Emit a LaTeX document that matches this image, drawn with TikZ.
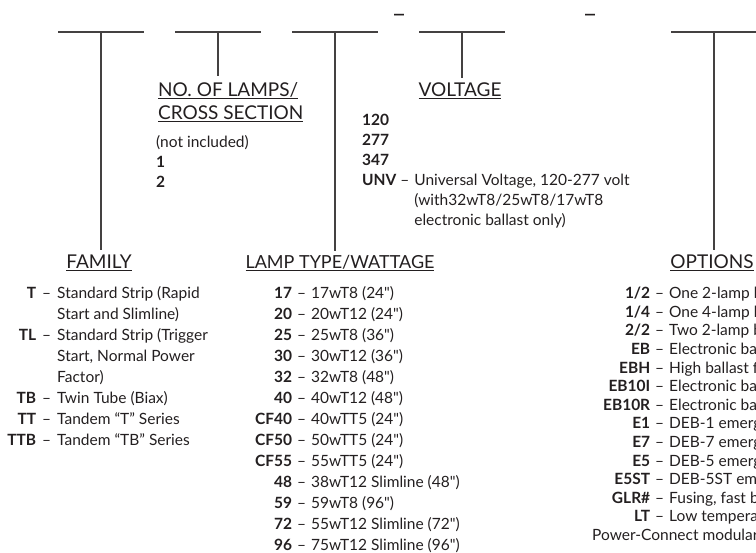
\documentclass[tikz,border=0pt]{standalone}
\usepackage{fontspec}
\setmainfont{Lato}
\usepackage{array}
\usepackage{xcolor}
\usepackage{tikz}

\definecolor{ink}{HTML}{231F20}
\newcolumntype{C}[1]{>{\raggedleft\arraybackslash\bfseries}p{#1}}
\newcommand\ulhead[1]{\setbox0\hbox{#1}\rlap{\rule[-2.4pt]{\wd0}{1.1pt}}\box0}
\newcommand\inch{\textquotedbl}

\begin{document}
\begin{tikzpicture}[
    x=1pt, y=-1pt,
    blank/.style={draw=ink!85, line width=1.2pt},
    lead/.style={draw=ink!85, line width=1.1pt, shorten >=5pt},
    head/.style={inner sep=0pt, anchor=base, text=ink, font=\fontsize{19}{23}\selectfont},
    list/.style={inner sep=0pt, anchor=north west, text=ink}
]
\path[use as bounding box, clip] (0,0) rectangle (756,553);

\coordinate (fam) at (101,32);
\coordinate (lamps) at (218,32);
\coordinate (type) at (335,32);
\coordinate (volt) at (462,32);
\coordinate (opt) at (714,32);

\foreach \c in {fam,lamps,type,volt,opt}
    \draw[blank] ([xshift=-43pt]\c) -- ([xshift=43pt]\c);

\node[head, font=\fontsize{25}{25}\selectfont] (dash1) at (399,23) {--};
\node[head, font=\fontsize{25}{25}\selectfont] (dash2) at (590,23) {--};

\node[head] (family) at (99,269) {\ulhead{FAMILY}};
\node[head, anchor=base west] (lampsh) at (158,97)
    {\begin{tabular}[t]{@{}l@{}}\ulhead{NO. OF LAMPS/}\\\ulhead{CROSS SECTION}\end{tabular}};
\node[head, font=\fontsize{18}{23}\selectfont] (typeh) at (340,269) {\ulhead{LAMP TYPE/WATTAGE}};
\node[head] (volth) at (460,97) {\ulhead{VOLTAGE}};
\node[head] (opth) at (712,269) {\ulhead{OPTIONS}};

\draw[lead] (fam) -- (fam |- family.north);
\draw[lead] (lamps) -- (lamps |- lampsh.north);
\draw[lead] (type) -- (type |- typeh.north);
\draw[lead] (volt) -- (volt |- volth.north);
\draw[lead] (opt) -- (opt |- opth.north);

\node[list, font=\fontsize{15.5}{21}\selectfont] (famlist) at (4,283.8)
    {\begin{tabular}{@{}C{32pt}@{\hspace{6pt}}c@{\hspace{6pt}}l@{}}
    T & -- & Standard Strip (Rapid\\
      &    & Start and Slimline)\\
    TL & -- & Standard Strip (Trigger\\
       &    & Start, Normal Power\\
       &    & Factor)\\
    TB & -- & Twin Tube (Biax)\\
    TT & -- & Tandem “T” Series\\
    TTB & -- & Tandem “TB” Series
    \end{tabular}};

\node[list, font=\fontsize{15.5}{20}\selectfont] (lampslist) at (156,133.5)
    {\begin{tabular}{@{}l@{}}
    (not included)\\
    \textbf{1}\\
    \textbf{2}
    \end{tabular}};

\node[list, font=\fontsize{15.5}{21}\selectfont] (typelist) at (245,283.8)
    {\begin{tabular}{@{}C{47pt}@{\hspace{5pt}}c@{\hspace{5pt}}l@{}}
    17 & -- & 17wT8 (24\inch)\\
    20 & -- & 20wT12 (24\inch)\\
    25 & -- & 25wT8 (36\inch)\\
    30 & -- & 30wT12 (36\inch)\\
    32 & -- & 32wT8 (48\inch)\\
    40 & -- & 40wT12 (48\inch)\\
    CF40 & -- & 40wTT5 (24\inch)\\
    CF50 & -- & 50wTT5 (24\inch)\\
    CF55 & -- & 55wTT5 (24\inch)\\
    48 & -- & 38wT12 Slimline (48\inch)\\
    59 & -- & 59wT8 (96\inch)\\
    72 & -- & 55wT12 Slimline (72\inch)\\
    96 & -- & 75wT12 Slimline (96\inch)
    \end{tabular}};

\node[list, font=\fontsize{15.5}{20}\selectfont] (voltlist) at (362,111.5)
    {\begin{tabular}{@{}>{\bfseries}l@{\hspace{4pt}}c@{\hspace{5pt}}l@{}}
    120 & & \\
    277 & & \\
    347 & & \\
    UNV & -- & Universal Voltage, 120-277 volt\\
        &    & (with32wT8/25wT8/17wT8\\
        &    & electronic ballast only)
    \end{tabular}};

\node[list, font=\fontsize{15.5}{18.6}\selectfont] (optlist) at (588,285.5)
    {\begin{tabular}{@{}C{62pt}@{\hspace{5pt}}c@{\hspace{5pt}}l@{}}
    1/2 & -- & One 2-lamp b\\
    1/4 & -- & One 4-lamp b\\
    2/2 & -- & Two 2-lamp b\\
    EB & -- & Electronic bal\\
    EBH & -- & High ballast f\\
    EB10I & -- & Electronic bal\\
    EB10R & -- & Electronic bal\\
    E1 & -- & DEB-1 emerg\\
    E7 & -- & DEB-7 emerg\\
    E5 & -- & DEB-5 emerg\\
    E5ST & -- & DEB-5ST eme\\
    GLR\# & -- & Fusing, fast b\\
    LT & -- & Low temperat\\
    \multicolumn{3}{@{}l@{}}{\hspace{4pt}Power-Connect modular}
    \end{tabular}};
\end{tikzpicture}
\end{document}
